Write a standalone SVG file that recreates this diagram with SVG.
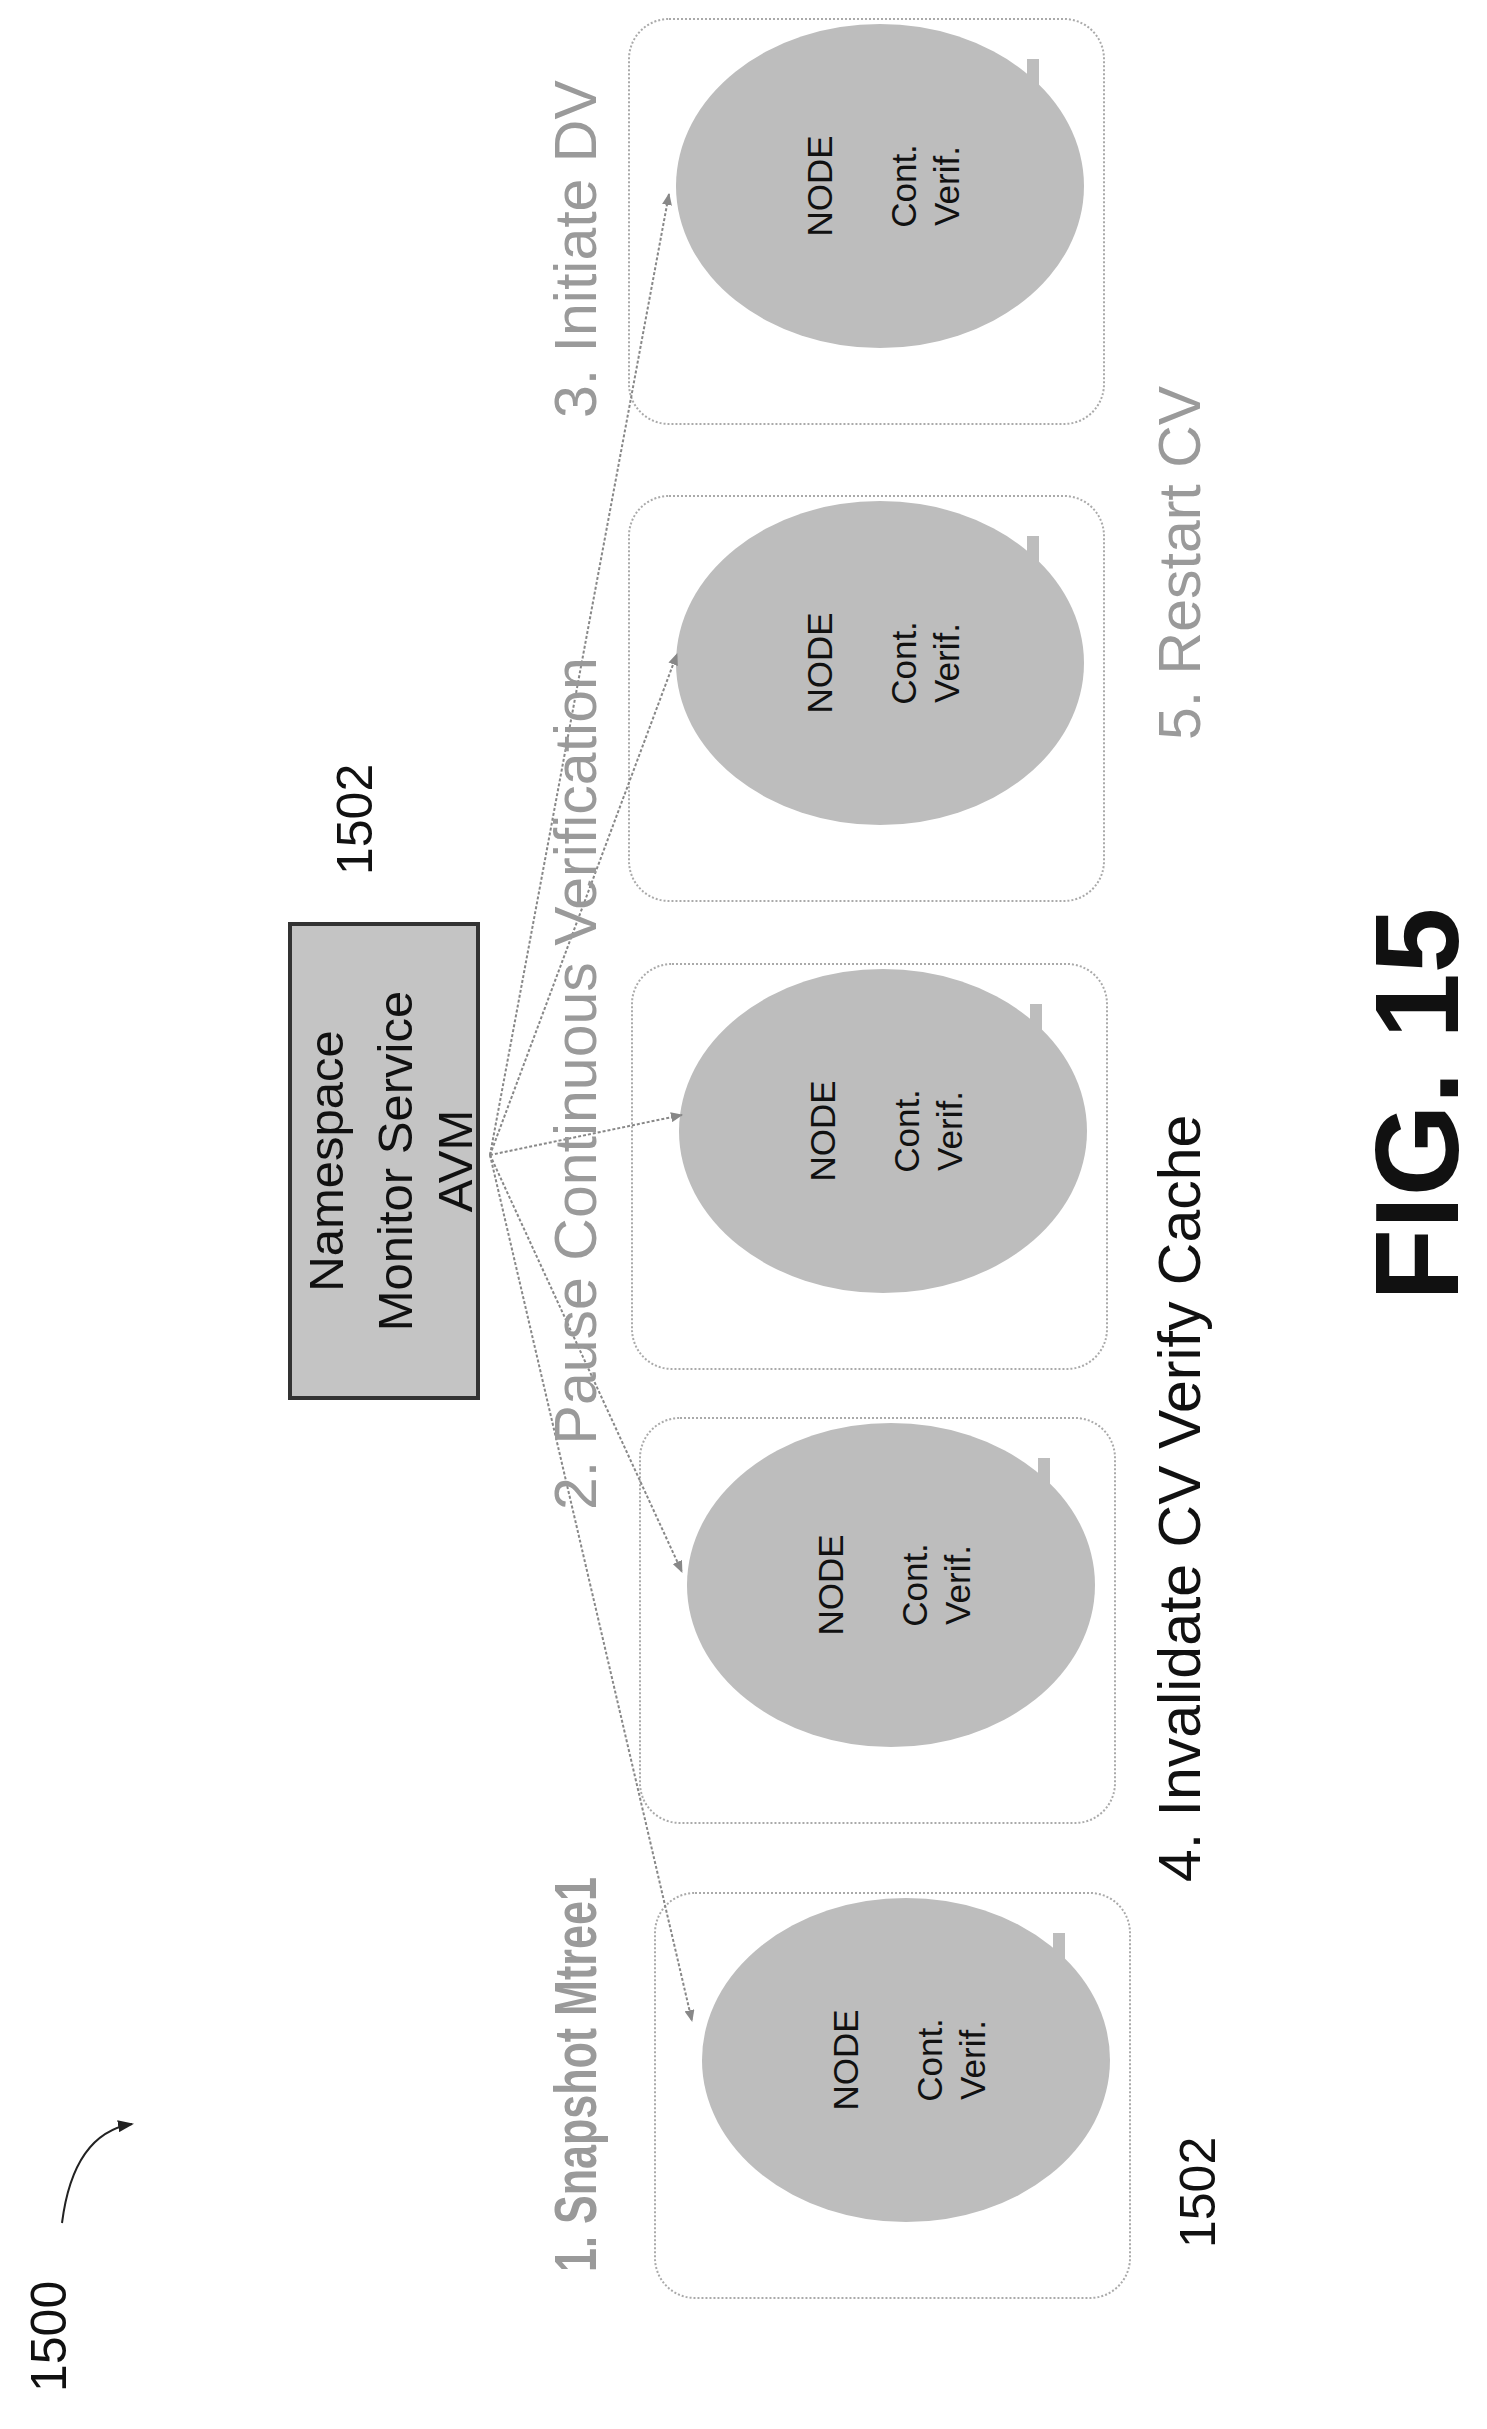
<svg xmlns="http://www.w3.org/2000/svg" width="1487" height="2429" viewBox="0 0 1487 2429">
<style>
.frame{fill:none;stroke:#aaa;stroke-width:2;stroke-dasharray:2 2}
.ell{fill:#bdbdbd}
.nt{font-family:"Liberation Sans",Arial,sans-serif;font-size:35px;fill:#111;text-anchor:middle}
.lbl{font-family:"Liberation Sans",Arial,sans-serif;font-size:59px}
.box{font-family:"Liberation Sans",Arial,sans-serif;font-size:49px;fill:#111;text-anchor:middle}
.num{font-family:"Liberation Sans",Arial,sans-serif;font-size:50px;fill:#111}
.gray{fill:#9a9a9a}
.blk{fill:#111}
.conn{stroke:#888;stroke-width:2;stroke-dasharray:3 2;fill:none}
</style>
<defs>
<marker id="ah" markerWidth="12" markerHeight="10" refX="11" refY="5" orient="auto" markerUnits="userSpaceOnUse"><path d="M0,0 L12,5 L0,10 z" fill="#888"/></marker>
<marker id="ah2" markerWidth="16" markerHeight="12" refX="14" refY="6" orient="auto" markerUnits="userSpaceOnUse"><path d="M0,0 L16,6 L0,12 z" fill="#222"/></marker>
<g id="nodeShape">
<rect class="frame" x="0" y="0" width="475" height="405" rx="40"/>
<ellipse class="ell" cx="251" cy="167" rx="204" ry="162"/>
<rect class="ell" x="398" y="40" width="12" height="30"/>
<text class="nt" transform="translate(203,167) rotate(-90)">NODE</text>
<text class="nt" transform="translate(287,167) rotate(-90)">Cont.</text>
<text class="nt" transform="translate(330,167) rotate(-90)">Verif.</text>
</g>
</defs>
<rect width="1487" height="2429" fill="#fff"/>
<g id="avm">
<rect x="290" y="924" width="188" height="474" fill="#c4c4c4" stroke="#333" stroke-width="4"/>
<text class="box" transform="translate(343,1161) rotate(-90)">Namespace</text>
<text class="box" transform="translate(412,1161) rotate(-90)">Monitor Service</text>
<text class="box" transform="translate(472,1161) rotate(-90)">AVM</text>
</g>
<g id="node3"><use href="#nodeShape" transform="translate(629,19)"/></g>
<g id="node5"><use href="#nodeShape" transform="translate(629,496)"/></g>
<g id="nodeMid"><use href="#nodeShape" transform="translate(632,964)"/></g>
<g id="node2"><use href="#nodeShape" transform="translate(640,1418)"/></g>
<g id="node1"><use href="#nodeShape" transform="translate(655,1893)"/></g>
<g id="connectors">
<line class="conn" x1="490" y1="1155" x2="669" y2="194" marker-end="url(#ah)"/>
<line class="conn" x1="490" y1="1155" x2="677" y2="654" marker-end="url(#ah)"/>
<line class="conn" x1="490" y1="1155" x2="682" y2="1115" marker-end="url(#ah)"/>
<line class="conn" x1="490" y1="1155" x2="682" y2="1572" marker-end="url(#ah)"/>
<line class="conn" x1="490" y1="1155" x2="692" y2="2021" marker-end="url(#ah)"/>
<path d="M62,2223 C70,2160 95,2130 132,2124" fill="none" stroke="#222" stroke-width="2" marker-end="url(#ah2)"/>
</g>
<g id="labels">
<text class="lbl gray" font-size="54" font-weight="bold" textLength="395" lengthAdjust="spacingAndGlyphs" transform="translate(596,2272) rotate(-90)">1. Snapshot Mtree1</text>
<text class="lbl gray" transform="translate(596,1510) rotate(-90)">2. Pause Continuous Verification</text>
<text class="lbl gray" transform="translate(596,418) rotate(-90)">3. Initiate DV</text>
<text class="lbl blk" transform="translate(1200,1882) rotate(-90)">4. Invalidate CV Verify Cache</text>
<text class="lbl gray" transform="translate(1200,740) rotate(-90)">5. Restart CV</text>
<text class="num" transform="translate(1215,2248) rotate(-90)">1502</text>
<text class="num" transform="translate(372,875) rotate(-90)">1502</text>
<text class="num" transform="translate(66,2392) rotate(-90)">1500</text>
<text font-family="Liberation Sans,Arial,sans-serif" font-weight="bold" font-size="118" fill="#111" transform="translate(1458,1301) rotate(-90)">FIG. 15</text>
</g>
</svg>
